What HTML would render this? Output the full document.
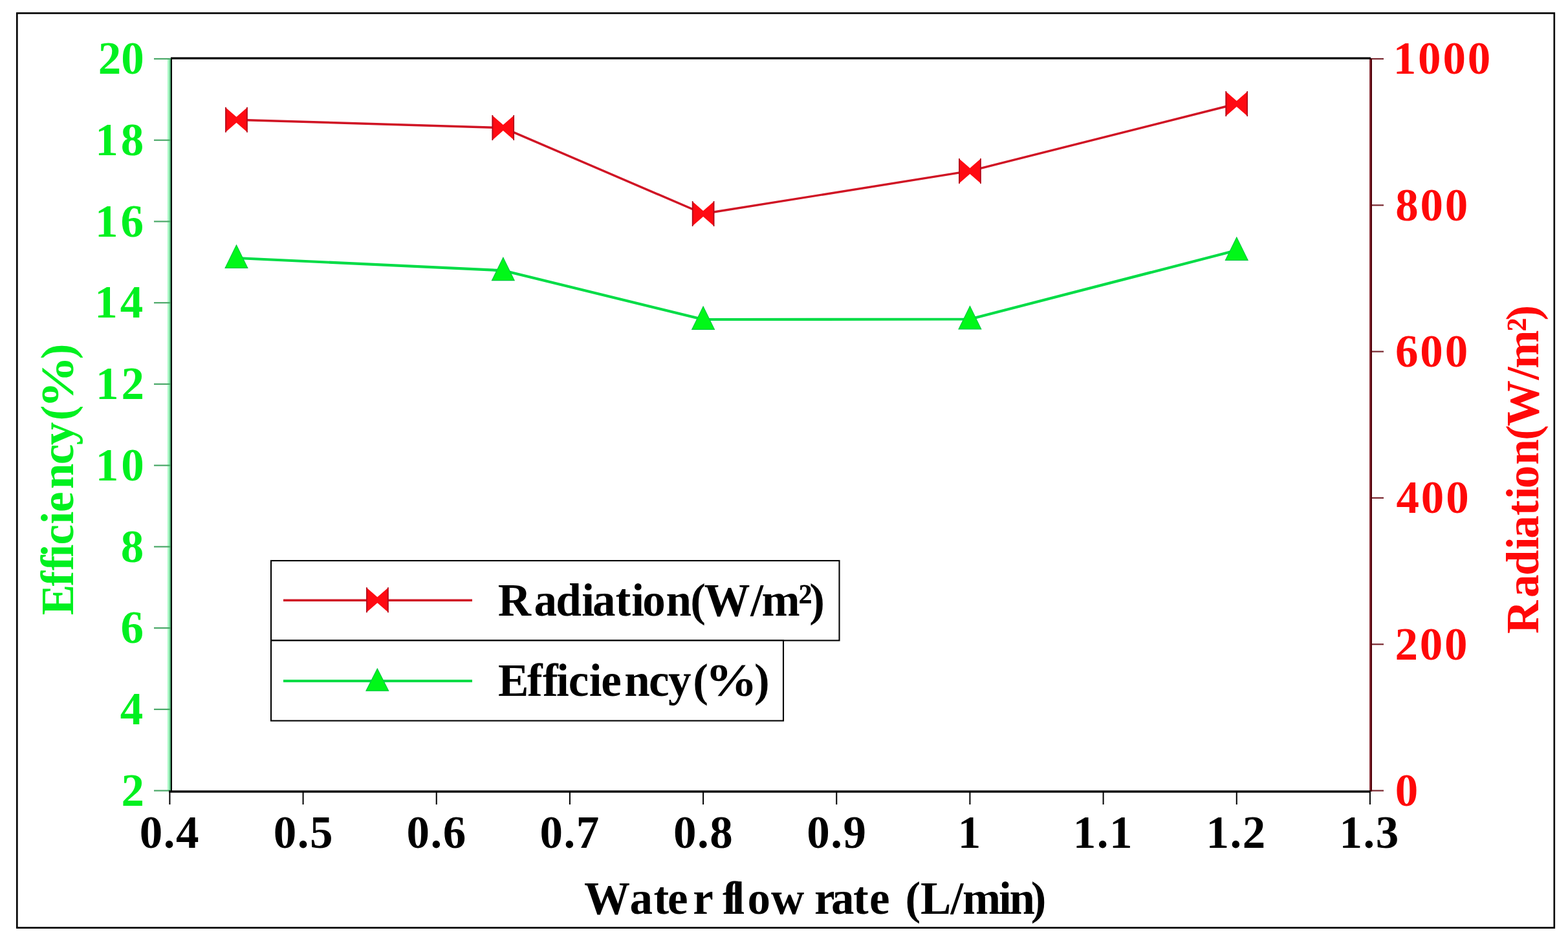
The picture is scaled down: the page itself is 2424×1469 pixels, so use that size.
<!DOCTYPE html>
<html><head><meta charset="utf-8"><title>Efficiency and Radiation vs Water flow rate</title><style>html,body{margin:0;padding:0;background:#fff;width:2424px;height:1469px;overflow:hidden}svg{display:block}text{font-kerning:none;font-variant-ligatures:none}</style></head><body>
<svg width="2424" height="1469" viewBox="0 0 2424 1469">
<rect x="0" y="0" width="2424" height="1469" fill="#ffffff"/>
<rect x="26.3" y="20.4" width="2376.5" height="1414.2" fill="none" stroke="#000" stroke-width="2.6"/>
<rect x="259" y="90" width="5" height="1133" fill="#a8f8c4"/>
<rect x="262" y="90" width="2" height="1133" fill="#5cb880"/>
<line x1="238" y1="91.00" x2="264" y2="91.00" stroke="#4aa868" stroke-width="2.2"/>
<line x1="238" y1="216.73" x2="264" y2="216.73" stroke="#4aa868" stroke-width="2.2"/>
<line x1="238" y1="342.47" x2="264" y2="342.47" stroke="#4aa868" stroke-width="2.2"/>
<line x1="238" y1="468.20" x2="264" y2="468.20" stroke="#4aa868" stroke-width="2.2"/>
<line x1="238" y1="593.93" x2="264" y2="593.93" stroke="#4aa868" stroke-width="2.2"/>
<line x1="238" y1="719.67" x2="264" y2="719.67" stroke="#4aa868" stroke-width="2.2"/>
<line x1="238" y1="845.40" x2="264" y2="845.40" stroke="#4aa868" stroke-width="2.2"/>
<line x1="238" y1="971.13" x2="264" y2="971.13" stroke="#4aa868" stroke-width="2.2"/>
<line x1="238" y1="1096.87" x2="264" y2="1096.87" stroke="#4aa868" stroke-width="2.2"/>
<line x1="238" y1="1222.60" x2="264" y2="1222.60" stroke="#4aa868" stroke-width="2.2"/>
<rect x="264" y="89" width="2" height="1134" fill="#000"/>
<rect x="2117" y="90" width="2" height="1134" fill="#8a3038"/>
<rect x="2119" y="90" width="2" height="1134" fill="#500008"/>
<line x1="2121" y1="91.00" x2="2139" y2="91.00" stroke="#7a2830" stroke-width="2.2"/>
<line x1="2121" y1="317.32" x2="2139" y2="317.32" stroke="#7a2830" stroke-width="2.2"/>
<line x1="2121" y1="543.64" x2="2139" y2="543.64" stroke="#7a2830" stroke-width="2.2"/>
<line x1="2121" y1="769.96" x2="2139" y2="769.96" stroke="#7a2830" stroke-width="2.2"/>
<line x1="2121" y1="996.28" x2="2139" y2="996.28" stroke="#7a2830" stroke-width="2.2"/>
<line x1="2121" y1="1222.60" x2="2139" y2="1222.60" stroke="#7a2830" stroke-width="2.2"/>
<rect x="264" y="88.5" width="1855" height="3.2" fill="#000"/>
<rect x="261" y="1222.3" width="1858" height="3.4" fill="#000"/>
<line x1="262.40" y1="1224" x2="262.40" y2="1244" stroke="#000" stroke-width="2"/>
<line x1="468.57" y1="1224" x2="468.57" y2="1244" stroke="#000" stroke-width="2"/>
<line x1="674.74" y1="1224" x2="674.74" y2="1244" stroke="#000" stroke-width="2"/>
<line x1="880.91" y1="1224" x2="880.91" y2="1244" stroke="#000" stroke-width="2"/>
<line x1="1087.08" y1="1224" x2="1087.08" y2="1244" stroke="#000" stroke-width="2"/>
<line x1="1293.25" y1="1224" x2="1293.25" y2="1244" stroke="#000" stroke-width="2"/>
<line x1="1499.42" y1="1224" x2="1499.42" y2="1244" stroke="#000" stroke-width="2"/>
<line x1="1705.59" y1="1224" x2="1705.59" y2="1244" stroke="#000" stroke-width="2"/>
<line x1="1911.76" y1="1224" x2="1911.76" y2="1244" stroke="#000" stroke-width="2"/>
<line x1="2117.93" y1="1224" x2="2117.93" y2="1244" stroke="#000" stroke-width="2"/>
<g font-family="'Liberation Serif','Times New Roman',serif" font-weight="bold" font-size="71.0">
<text x="151.70 187.20" y="114.26" fill="#00f020">20</text>
<text x="147.36 186.86" y="240.00" fill="#00f020">18</text>
<text x="147.08 186.58" y="365.73" fill="#00f020">16</text>
<text x="146.32 185.82" y="491.46" fill="#00f020">14</text>
<text x="148.05 187.55" y="617.20" fill="#00f020">12</text>
<text x="147.70 187.20" y="742.93" fill="#00f020">10</text>
<text x="186.86" y="868.66" fill="#00f020">8</text>
<text x="186.58" y="994.40" fill="#00f020">6</text>
<text x="185.82" y="1120.13" fill="#00f020">4</text>
<text x="187.55" y="1245.86" fill="#00f020">2</text>
<text x="2153.81 2192.11 2230.41 2268.71" y="114.26" fill="#ff0808">1000</text>
<text x="2157.14 2195.44 2233.74" y="340.58" fill="#ff0808">800</text>
<text x="2157.07 2195.37 2233.67" y="566.90" fill="#ff0808">600</text>
<text x="2158.53 2196.83 2235.13" y="793.22" fill="#ff0808">400</text>
<text x="2156.52 2194.82 2233.12" y="1019.54" fill="#ff0808">200</text>
<text x="2156.80" y="1245.86" fill="#ff0808">0</text>
<text x="215.83 252.83 272.08" y="1311.00" fill="#000">0.4</text>
<text x="422.64 459.64 478.89" y="1311.00" fill="#000">0.5</text>
<text x="628.55 665.55 684.80" y="1311.00" fill="#000">0.6</text>
<text x="834.55 871.55 890.80" y="1311.00" fill="#000">0.7</text>
<text x="1041.03 1078.03 1097.28" y="1311.00" fill="#000">0.8</text>
<text x="1247.31 1284.31 1303.56" y="1311.00" fill="#000">0.9</text>
<text x="1480.66" y="1311.00" fill="#000">1</text>
<text x="1658.71 1695.71 1714.96" y="1311.00" fill="#000">1.1</text>
<text x="1864.57 1901.57 1920.82" y="1311.00" fill="#000">1.2</text>
<text x="2070.43 2107.43 2126.68" y="1311.00" fill="#000">1.3</text>
</g>
<polyline points="365.48,185.20 777.82,197.60 1087.08,330.50 1499.42,264.40 1911.76,160.50" fill="none" stroke="#d01424" stroke-width="3.4" stroke-linejoin="round"/>
<polyline points="365.48,399.00 777.82,418.30 1087.08,494.00 1499.42,493.50 1911.76,387.00" fill="none" stroke="#00dc46" stroke-width="4.2" stroke-linejoin="round"/>
<path d="M348.28,165.70 L365.48,180.70 L382.68,165.70 L382.68,204.70 L365.48,189.70 L348.28,204.70 Z" fill="#ff0a12"/><path d="M349.08,165.70 V204.70 M381.88,165.70 V204.70" stroke="#a80a1c" stroke-width="1.6" fill="none"/>
<path d="M760.62,178.10 L777.82,193.10 L795.02,178.10 L795.02,217.10 L777.82,202.10 L760.62,217.10 Z" fill="#ff0a12"/><path d="M761.42,178.10 V217.10 M794.23,178.10 V217.10" stroke="#a80a1c" stroke-width="1.6" fill="none"/>
<path d="M1069.88,311.00 L1087.08,326.00 L1104.28,311.00 L1104.28,350.00 L1087.08,335.00 L1069.88,350.00 Z" fill="#ff0a12"/><path d="M1070.68,311.00 V350.00 M1103.48,311.00 V350.00" stroke="#a80a1c" stroke-width="1.6" fill="none"/>
<path d="M1482.22,244.90 L1499.42,259.90 L1516.62,244.90 L1516.62,283.90 L1499.42,268.90 L1482.22,283.90 Z" fill="#ff0a12"/><path d="M1483.02,244.90 V283.90 M1515.82,244.90 V283.90" stroke="#a80a1c" stroke-width="1.6" fill="none"/>
<path d="M1894.56,141.00 L1911.76,156.00 L1928.96,141.00 L1928.96,180.00 L1911.76,165.00 L1894.56,180.00 Z" fill="#ff0a12"/><path d="M1895.36,141.00 V180.00 M1928.16,141.00 V180.00" stroke="#a80a1c" stroke-width="1.6" fill="none"/>
<path d="M365.48,379.00 L382.78,414.30 L348.18,414.30 Z" fill="#00f818" stroke="#00c840" stroke-width="1.2"/>
<path d="M777.82,398.30 L795.12,433.60 L760.52,433.60 Z" fill="#00f818" stroke="#00c840" stroke-width="1.2"/>
<path d="M1087.08,474.00 L1104.38,509.30 L1069.78,509.30 Z" fill="#00f818" stroke="#00c840" stroke-width="1.2"/>
<path d="M1499.42,473.50 L1516.72,508.80 L1482.12,508.80 Z" fill="#00f818" stroke="#00c840" stroke-width="1.2"/>
<path d="M1911.76,367.00 L1929.06,402.30 L1894.46,402.30 Z" fill="#00f818" stroke="#00c840" stroke-width="1.2"/>
<rect x="419" y="867" width="878.5" height="123.4" fill="#fff" stroke="#000" stroke-width="2.1"/>
<rect x="419" y="990.4" width="792" height="124.1" fill="#fff" stroke="#000" stroke-width="2.1"/>
<line x1="438" y1="928.2" x2="730" y2="928.2" stroke="#d01424" stroke-width="3.4"/>
<path d="M566.20,908.30 L583.40,923.30 L600.60,908.30 L600.60,947.30 L583.40,932.30 L566.20,947.30 Z" fill="#ff0a12"/><path d="M567.00,908.30 V947.30 M599.80,908.30 V947.30" stroke="#a80a1c" stroke-width="1.6" fill="none"/>
<line x1="438" y1="1053" x2="730" y2="1053" stroke="#00dc46" stroke-width="4.2"/>
<path d="M583.30,1034.00 L600.60,1068.20 L566.00,1068.20 Z" fill="#00f818" stroke="#00c840" stroke-width="1.2"/>
<g font-family="'Liberation Serif','Times New Roman',serif" font-weight="bold" font-size="71.0">
<text x="769.69 825.41 859.22 899.14 916.11 951.56 976.34 993.20 1029.59 1067.28 1088.59 1160.29 1177.49 1234.36 1251.31" y="951.80" fill="#000">Radiation(W/m²)</text>
<text y="1075.60" fill="#000"><tspan x="770.09 814.88 839.08 859.94 878.87 910.84 929.37 965.19 1003.07 1033.11 1071.18">Efficiency(</tspan><tspan x="1090.24" textLength="80.58" lengthAdjust="spacingAndGlyphs">%</tspan><tspan x="1166.01">)</tspan></text>
<text x="902.99 973.51 1010.46 1031.97 1071.29 1093.20 1116.98 1131.61 1155.60 1192.09 1212.30 1258.99 1284.91 1319.06 1344.07 1366.50 1399.58 1423.09 1469.39 1487.89 1543.94 1560.59 1593.81" y="1412.80" fill="#000">Water flow rate (L/min)</text>
<g transform="translate(113.3,950) rotate(-90)"><text y="0.00" fill="#00f020"><tspan x="-1.21 43.58 67.78 88.64 107.57 139.54 158.07 193.89 231.77 261.81 299.88">Efficiency(</tspan><tspan x="318.94" textLength="80.58" lengthAdjust="spacingAndGlyphs">%</tspan><tspan x="394.71">)</tspan></text></g>
<g transform="translate(2378.4,978.9) rotate(-90)"><text x="-1.21 54.85 88.87 129.02 146.10 181.75 206.68 223.65 260.26 298.18 319.61 391.73 409.04 466.25 483.31" y="0.00" fill="#ff0808">Radiation(W/m²)</text></g>
</g>
</svg>
</body></html>
